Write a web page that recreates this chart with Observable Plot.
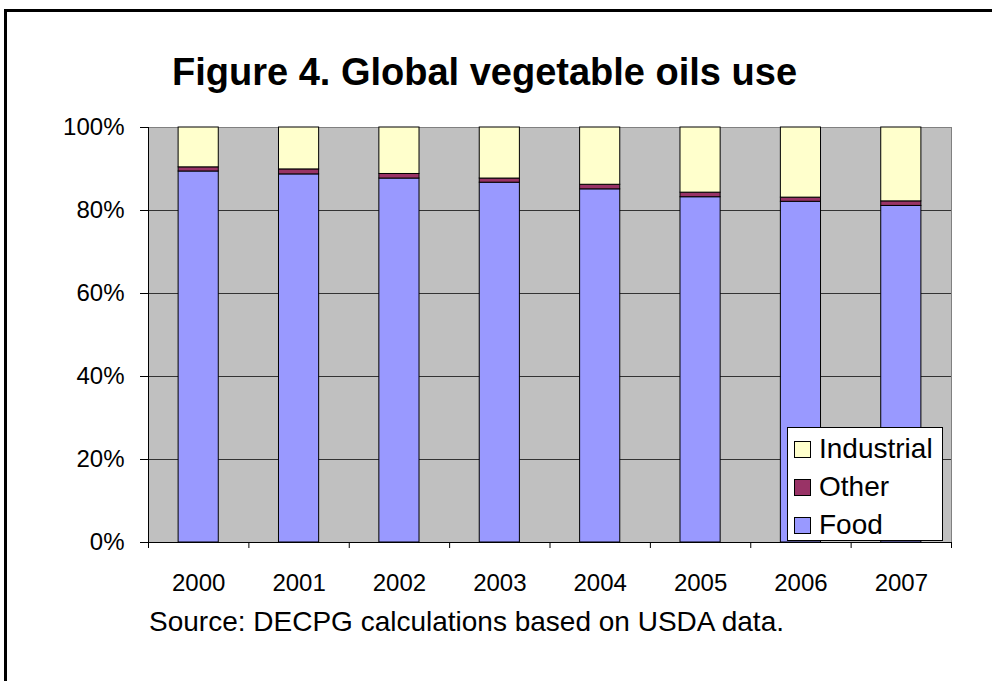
<!DOCTYPE html>
<html>
<head>
<meta charset="utf-8">
<script src="https://cdn.jsdelivr.net/npm/d3@7"></script>
<script src="https://cdn.jsdelivr.net/npm/@observablehq/plot@0.6"></script>
<style>
  html, body { margin: 0; padding: 0; background: #fff; }
  #wrap { position: relative; width: 992px; height: 681px; overflow: hidden; font-family: "Liberation Sans", Arial, sans-serif; color: #000; }
  #frame { position: absolute; left: 4px; top: 9px; width: 1100px; height: 800px; border-top: 3px solid #000; border-left: 3px solid #000; }
  #title { position: absolute; left: 0; top: 53px; width: 969px; text-align: center; font-size: 38px; line-height: 38px; font-weight: bold; white-space: nowrap; }
  #source { position: absolute; left: 149px; top: 608px; font-size: 28px; line-height: 28px; white-space: nowrap; }
  #chart { position: absolute; left: 0; top: 0; }
  #legend { position: absolute; left: 787px; top: 427px; width: 156px; height: 114px; background: #fff; border: 1px solid #000; box-sizing: border-box; }
  .item { position: absolute; left: 6px; height: 28px; display: flex; align-items: center; font-size: 28px; line-height: 28px; white-space: nowrap; }
  .sw { width: 17px; height: 17px; border: 1px solid #000; box-sizing: border-box; margin-right: 8px; }
</style>
</head>
<body>
<div id="wrap">
  <div id="frame"></div>
  <div id="title">Figure 4. Global vegetable oils use</div>
  <div id="chart"></div>
  <div id="legend"></div>
  <div id="source">Source: DECPG calculations based on USDA data.</div>
</div>
<script>
const years = [2000, 2001, 2002, 2003, 2004, 2005, 2006, 2007];
const food = [89.4, 88.7, 87.7, 86.7, 85.1, 83.2, 82.1, 81.1];
const other = [1.0, 1.2, 1.1, 1.0, 1.1, 1.1, 1.0, 1.1];
const industrial = [9.6, 10.1, 11.2, 12.3, 13.8, 15.7, 16.9, 17.8];
const seriesNames = ["Food", "Other", "Industrial"];
const seriesColors = ["#9999FF", "#993366", "#FFFFCC"];
const yTicks = [0, 20, 40, 60, 80, 100];
const legendOrder = ["Industrial", "Other", "Food"];

// Build stacked table (Food bottom, Other middle, Industrial top)
const seriesValues = {Food: food, Other: other, Industrial: industrial};
const table = [];
years.forEach((yr, i) => {
  let base = 0;
  for (const s of seriesNames) {
    const v = seriesValues[s][i];
    table.push({year: yr, series: s, y1: base, y2: base + v});
    base += v;
  }
});
const halfBar = 0.2;
const boundaries = [years[0] - 0.5, ...years.map(y => y + 0.5)];

const chart = Plot.plot({
  width: 992,
  height: 681,
  marginTop: 127,
  marginBottom: 139,
  marginLeft: 148,
  marginRight: 41,
  style: {fontFamily: '"Liberation Sans", Arial, sans-serif', color: "#000", background: "transparent"},
  x: {type: "linear", domain: [years[0] - 0.5, years[years.length - 1] + 0.5]},
  y: {domain: [0, 100]},
  color: {domain: seriesNames, range: seriesColors},
  marks: [
    Plot.frame({fill: "#C0C0C0", stroke: "#808080"}),
    Plot.ruleY(yTicks.filter(t => t > 0 && t < 100), {stroke: "#333", strokeWidth: 1}),
    Plot.rect(table, {
      x1: d => d.year - halfBar,
      x2: d => d.year + halfBar,
      y1: "y1",
      y2: "y2",
      fill: "series",
      stroke: "#000",
      strokeWidth: 1
    }),
    Plot.ruleY([0], {stroke: "#000"}),
    Plot.ruleX([boundaries[0]], {stroke: "#000"}),
    Plot.axisY({ticks: yTicks, tickFormat: d => d + "%", tickSize: 8, tickPadding: 16, fontSize: 24, stroke: "#000"}),
    Plot.axisX({ticks: boundaries, tickSize: 6, tickFormat: () => "", stroke: "#000"}),
    Plot.axisX({ticks: years, tickSize: 0, tickPadding: 31, fontSize: 24, tickFormat: d => String(d)})
  ]
});
document.getElementById("chart").appendChild(chart);

// Legend
const legend = document.getElementById("legend");
const rowCenters = [21, 59, 97];
legendOrder.forEach((name, i) => {
  const item = document.createElement("div");
  item.className = "item";
  item.style.top = (rowCenters[i] - 14) + "px";
  const sw = document.createElement("div");
  sw.className = "sw";
  sw.style.background = seriesColors[seriesNames.indexOf(name)];
  const label = document.createElement("span");
  label.textContent = name;
  item.appendChild(sw);
  item.appendChild(label);
  legend.appendChild(item);
});
</script>
</body>
</html>
